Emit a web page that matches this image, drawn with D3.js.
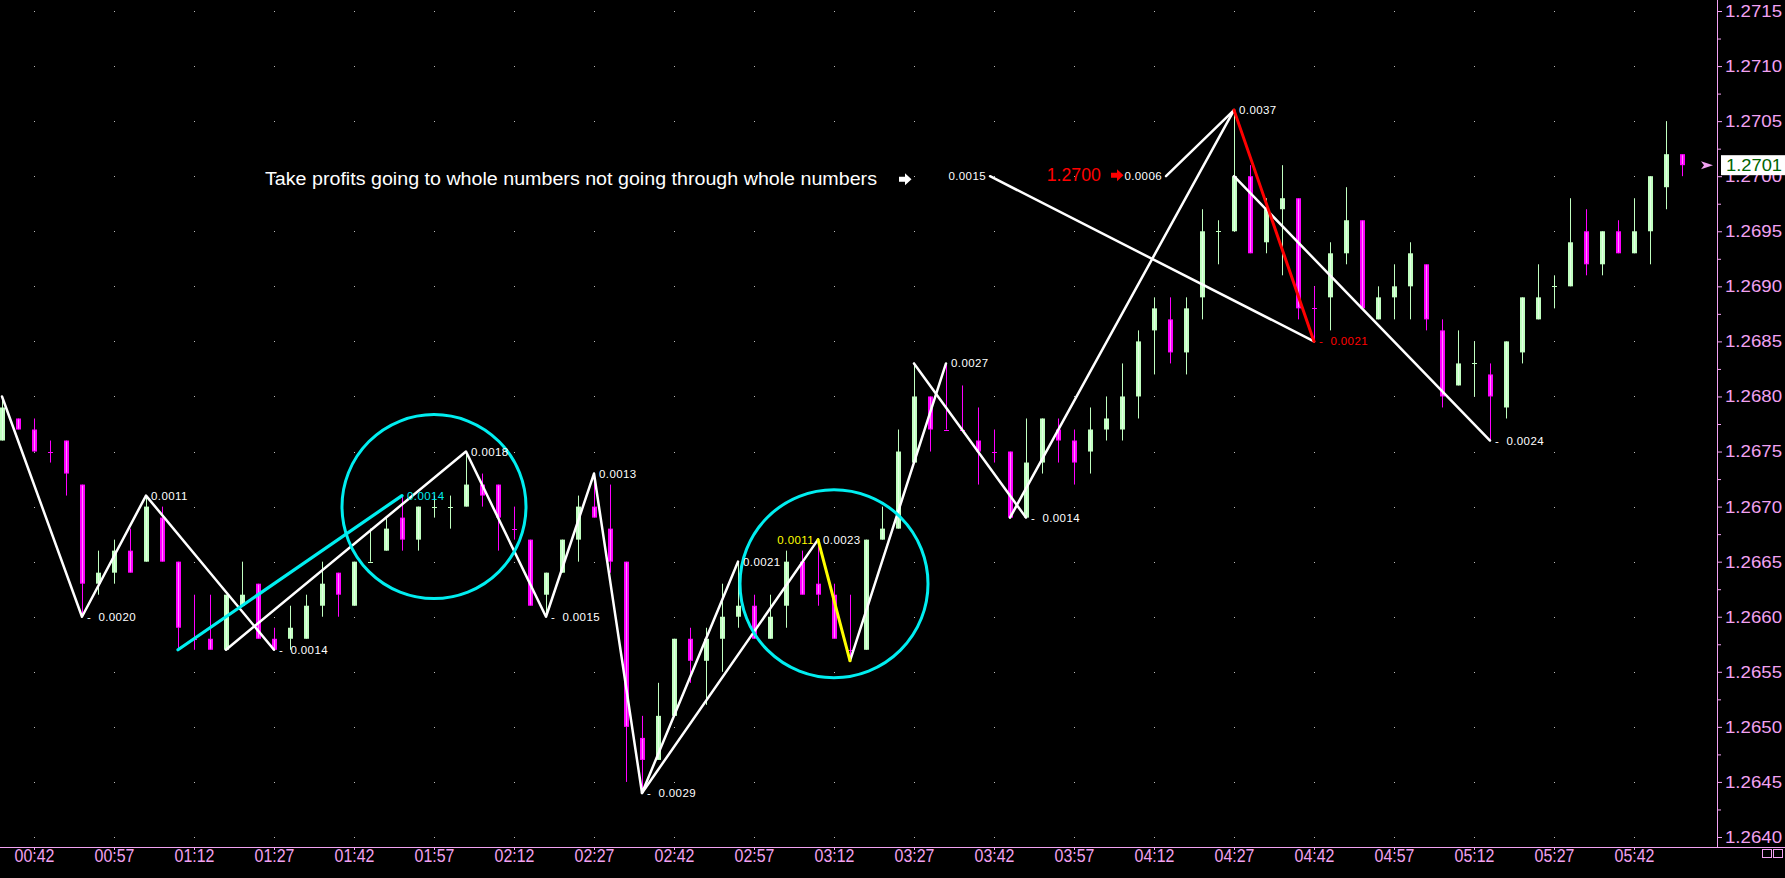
<!DOCTYPE html>
<html><head><meta charset="utf-8">
<script src="https://cdn.jsdelivr.net/npm/d3@7"></script>
<style>
html,body{margin:0;padding:0;background:#000;overflow:hidden;}
svg{display:block;}
</style></head><body>
<svg id="c" width="1785" height="878"></svg>
<script>
// ---------------- DATA ----------------
const times = ["00:36","00:39","00:42","00:45","00:48","00:51","00:54","00:57",
"01:00","01:03","01:06","01:09","01:12","01:15","01:18","01:21","01:24","01:27","01:30","01:33","01:36","01:39","01:42","01:45","01:48","01:51","01:54","01:57",
"02:00","02:03","02:06","02:09","02:12","02:15","02:18","02:21","02:24","02:27","02:30","02:33","02:36","02:39","02:42","02:45","02:48","02:51","02:54","02:57",
"03:00","03:03","03:06","03:09","03:12","03:15","03:18","03:21","03:24","03:27","03:30","03:33","03:36","03:39","03:42","03:45","03:48","03:51","03:54","03:57",
"04:00","04:03","04:06","04:09","04:12","04:15","04:18","04:21","04:24","04:27","04:30","04:33","04:36","04:39","04:42","04:45","04:48","04:51","04:54","04:57",
"05:00","05:03","05:06","05:09","05:12","05:15","05:18","05:21","05:24","05:27","05:30","05:33","05:36","05:39","05:42","05:45","05:48","05:51"];

const openP = [1.2676,1.2678,1.2677,1.2675,1.2676,1.2672,1.2663,1.2664,1.2666,1.2665,
1.2669,1.2665,1.2658,1.2658,1.2657,1.2661,1.2663,1.2658,1.2658,1.2658,
1.2661,1.2664,1.2661,1.2665,1.2666,1.2669,1.2667,1.2670,1.2670,1.2670,
1.2672,1.2672,1.2668,1.2667,1.2662,1.2664,1.2667,1.2670,1.2668,1.2665,
1.2649,1.2647,1.2651,1.2658,1.2656,1.2658,1.2660,1.2661,1.2658,1.2661,
1.2665,1.2663,1.2662,1.2657,1.2657,1.2667,1.2668,1.2674,1.2680,1.2677,
1.2677,1.2676,1.2675,1.2675,1.2669,1.2674,1.2677,1.2676,1.2675,1.2677,
1.2677,1.2680,1.2686,1.2687,1.2684,1.2689,1.2695,1.2695,1.2700,1.2694,
1.2697,1.2698,1.2688,1.2689,1.2693,1.2696,1.2687,1.2689,1.2690,1.2692,
1.2686,1.2681,1.2683,1.2682,1.2679,1.2684,1.2687,1.2690,1.2690,1.2695,
1.2692,1.2695,1.2693,1.2695,1.2699,1.2702];
const highP = [1.2680,1.2678,1.2678,1.2676,1.2676,1.2672,1.2666,1.2667,1.2668,1.2671,
1.2670,1.2665,1.2662,1.2662,1.2662,1.2665,1.2663,1.2659,1.2661,1.2662,
1.2665,1.2664,1.2665,1.2668,1.2669,1.2671,1.2670,1.2671,1.2671,1.2675,
1.2673,1.2672,1.2670,1.2667,1.2664,1.2667,1.2671,1.2673,1.2672,1.2665,
1.2651,1.2654,1.2658,1.2659,1.2659,1.2663,1.2665,1.2662,1.2662,1.2666,
1.2666,1.2667,1.2663,1.2662,1.2667,1.2670,1.2677,1.2683,1.2680,1.2683,
1.2681,1.2679,1.2677,1.2675,1.2678,1.2678,1.2678,1.2677,1.2679,1.2680,
1.2683,1.2686,1.2689,1.2689,1.2689,1.2697,1.2696,1.2706,1.2701,1.2698,
1.2701,1.2698,1.2690,1.2694,1.2699,1.2696,1.2690,1.2692,1.2694,1.2692,
1.2687,1.2686,1.2685,1.2683,1.2685,1.2689,1.2692,1.2691,1.2698,1.2697,
1.2695,1.2696,1.2698,1.2700,1.2705,1.2702];
const lowP = [1.2676,1.2677,1.2675,1.2674,1.2671,1.2660,1.2662,1.2663,1.2664,1.2665,
1.2665,1.2657,1.2657,1.2657,1.2657,1.2661,1.2658,1.2657,1.2657,1.2658,
1.2660,1.2660,1.2661,1.2665,1.2666,1.2666,1.2666,1.2669,1.2668,1.2670,
1.2670,1.2666,1.2667,1.2661,1.2660,1.2664,1.2665,1.2669,1.2664,1.2645,
1.2644,1.2647,1.2651,1.2654,1.2652,1.2655,1.2659,1.2658,1.2658,1.2659,
1.2662,1.2661,1.2658,1.2656,1.2657,1.2667,1.2668,1.2674,1.2675,1.2677,
1.2677,1.2672,1.2674,1.2669,1.2669,1.2673,1.2674,1.2672,1.2673,1.2676,
1.2676,1.2678,1.2682,1.2683,1.2682,1.2687,1.2692,1.2695,1.2693,1.2693,
1.2691,1.2687,1.2685,1.2686,1.2692,1.2688,1.2687,1.2687,1.2687,1.2686,
1.2679,1.2681,1.2680,1.2676,1.2678,1.2683,1.2687,1.2688,1.2690,1.2691,
1.2691,1.2693,1.2693,1.2692,1.2697,1.2700];
const closeP = [1.2679,1.2677,1.2675,1.2675,1.2673,1.2663,1.2664,1.2666,1.2664,1.2670,
1.2665,1.2659,1.2658,1.2657,1.2662,1.2662,1.2658,1.2657,1.2659,1.2661,
1.2663,1.2662,1.2665,1.2665,1.2668,1.2667,1.2670,1.2670,1.2670,1.2672,
1.2671,1.2669,1.2668,1.2661,1.2664,1.2667,1.2670,1.2669,1.2665,1.2650,
1.2647,1.2651,1.2658,1.2656,1.2658,1.2660,1.2661,1.2658,1.2660,1.2665,
1.2662,1.2662,1.2658,1.2657,1.2667,1.2668,1.2675,1.2680,1.2677,1.2677,
1.2677,1.2675,1.2675,1.2669,1.2674,1.2678,1.2676,1.2674,1.2677,1.2678,
1.2680,1.2685,1.2688,1.2684,1.2688,1.2695,1.2695,1.2700,1.2693,1.2697,
1.2698,1.2688,1.2688,1.2693,1.2696,1.2688,1.2689,1.2690,1.2693,1.2687,
1.2680,1.2683,1.2683,1.2680,1.2685,1.2689,1.2689,1.2690,1.2694,1.2692,
1.2695,1.2693,1.2695,1.2700,1.2702,1.2701];
const bearDoji = [3,12,32,53,59,60,62,82];

const xTickIdx = [2,7,12,17,22,27,32,37,42,47,52,57,62,67,72,77,82,87,92,97,102];
const yTickValues = [1.2640,1.2645,1.2650,1.2655,1.2660,1.2665,1.2670,1.2675,1.2680,1.2685,1.2690,1.2695,1.2700,1.2705,1.2710,1.2715];
const yMinorTicks = [1.26425,1.26475,1.26525,1.26575,1.26625,1.26675,1.26725,1.26775,1.26825,1.26875,1.26925,1.26975,1.27025,1.27075,1.27125];
const lastPrice = 1.2701;

// zigzag swings: [bar index, price]
const whiteSwings = [
  [[0,1.2680],[5,1.2660],[9,1.2671],[17,1.2657]],
  [[14,1.2657],[29,1.2675],[34,1.2660],[37,1.2673],[40,1.2644],[46,1.2665]],
  [[40,1.2644],[51,1.2667]],
  [[53,1.2656],[59,1.2683]],
  [[57,1.2683],[64,1.2669]],
  [[63,1.2669],[77,1.2706]],
  [[77,1.2700],[93,1.2676]],
  [[61.75,1.2700],[82,1.2685]],
  [[72.75,1.2700],[77,1.2706]]
];
const cyanSwing = [[11,1.2657],[25,1.2671]];
const yellowSwing = [[51,1.2667],[53,1.2656]];
const redSwing = [[77,1.2706],[82,1.2685]];

const swingLabels = [
  {i:5,  p:1.2660, t:"-  0.0020", col:"w"},
  {i:9,  p:1.2671, t:"0.0011", col:"w"},
  {i:17, p:1.2657, t:"-  0.0014", col:"w"},
  {i:25, p:1.2671, t:"0.0014", col:"c"},
  {i:29, p:1.2675, t:"0.0018", col:"w"},
  {i:34, p:1.2660, t:"-  0.0015", col:"w"},
  {i:37, p:1.2673, t:"0.0013", col:"w"},
  {i:40, p:1.2644, t:"-  0.0029", col:"w"},
  {i:46, p:1.2665, t:"0.0021", col:"w"},
  {i:51, p:1.2667, t:"0.0023", col:"w"},
  {i:51, p:1.2667, t:"0.0011", col:"y", end:true},
  {i:59, p:1.2683, t:"0.0027", col:"w"},
  {i:64, p:1.2669, t:"-  0.0014", col:"w"},
  {i:77, p:1.2706, t:"0.0037", col:"w"},
  {i:82, p:1.2685, t:"-  0.0021", col:"r"},
  {i:93, p:1.2676, t:"-  0.0024", col:"w"},
  {i:61.75, p:1.2700, t:"0.0015", col:"w", end:true},
  {i:72.75, p:1.2700, t:"0.0006", col:"w", end:true}
];
const circles = [{i:27, p:1.2670}, {i:52, p:1.2663}];
const noteText = "Take profits going to whole numbers not going through whole numbers";
const wholeNumber = {i:65.3, p:1.2700, t:"1.2700"};

// ---------------- DRAW ----------------
const W = 1785, H = 878;
const svg = d3.select("#c");
svg.append("rect").attr("width",W).attr("height",H).attr("fill","#000");

const xs = d3.scaleLinear().domain([0, times.length-1]).range([2, 1682]);
const ys = d3.scaleLinear().domain([1.2640, 1.2715]).range([837, 11]);
const PINK = "#f2a2f2", UP = "#c0ffc0", DN = "#ff00ff";
const colMap = {w:"#ffffff", c:"#00eef0", y:"#ffff00", r:"#ff0000"};

// grid dots
const gDots = svg.append("g");
xTickIdx.forEach(i => yTickValues.forEach(v => {
  gDots.append("rect").attr("x", Math.round(xs(i))).attr("y", Math.round(ys(v)))
    .attr("width",1).attr("height",1).attr("fill","#b8b8b8");
}));

// candles
const bars = d3.range(times.length).map(i => ({i, o:openP[i], h:highP[i], l:lowP[i], c:closeP[i]}));
const isUp = d => d.c > d.o || (d.c === d.o && !bearDoji.includes(d.i));
const gC = svg.append("g");
const cg = gC.selectAll("g").data(bars).join("g");
cg.append("line")
  .attr("x1", d => Math.round(xs(d.i))+0.5).attr("x2", d => Math.round(xs(d.i))+0.5)
  .attr("y1", d => ys(d.h)).attr("y2", d => ys(d.l))
  .attr("stroke", d => isUp(d) ? UP : DN).attr("stroke-width",1);
cg.filter(d => d.o !== d.c).append("rect")
  .attr("x", d => Math.round(xs(d.i))-2).attr("width",5)
  .attr("y", d => ys(Math.max(d.o,d.c))).attr("height", d => ys(Math.min(d.o,d.c)) - ys(Math.max(d.o,d.c)))
  .attr("fill", d => isUp(d) ? UP : DN);
cg.filter(d => d.o !== d.c).append("line")
  .attr("x1", d => Math.round(xs(d.i))+0.5).attr("x2", d => Math.round(xs(d.i))+0.5)
  .attr("y1", d => ys(Math.max(d.o,d.c))+1).attr("y2", d => ys(Math.min(d.o,d.c))-1)
  .attr("stroke", d => isUp(d) ? "#e4ffe4" : "#ff8cff").attr("stroke-width",1);
cg.filter(d => d.o === d.c).append("line")
  .attr("x1", d => Math.round(xs(d.i))-2).attr("x2", d => Math.round(xs(d.i))+3)
  .attr("y1", d => Math.round(ys(d.o))+0.5).attr("y2", d => Math.round(ys(d.o))+0.5)
  .attr("stroke", d => isUp(d) ? UP : DN).attr("stroke-width",1);

// swing lines
const line = d3.line().x(d => xs(d[0])).y(d => ys(d[1]));
const gL = svg.append("g").attr("fill","none").attr("stroke-linejoin","round").attr("stroke-linecap","round");
gL.selectAll("path.w").data(whiteSwings).join("path").attr("class","w")
  .attr("d", line).attr("stroke","#ffffff").attr("stroke-width",2.5);
gL.append("path").attr("d", line(cyanSwing)).attr("stroke", colMap.c).attr("stroke-width",3.2);
gL.append("path").attr("d", line(yellowSwing)).attr("stroke", colMap.y).attr("stroke-width",3);
gL.append("path").attr("d", line(redSwing)).attr("stroke", colMap.r).attr("stroke-width",3);

// circles
svg.append("g").selectAll("circle").data(circles).join("circle")
  .attr("cx", d => xs(d.i)).attr("cy", d => ys(d.p)).attr("r", (d,k) => k === 0 ? 92 : 94)
  .attr("fill","none").attr("stroke", colMap.c).attr("stroke-width",3);

// swing labels
svg.append("g").selectAll("text").data(swingLabels).join("text")
  .attr("x", d => d.end ? xs(d.i) - 4 : xs(d.i) + 5)
  .attr("y", d => ys(d.p) + 4)
  .attr("text-anchor", d => d.end ? "end" : "start")
  .attr("fill", d => colMap[d.col])
  .style("white-space","pre")
  .attr("font-family","'Liberation Sans', Arial, sans-serif").attr("font-size", 11.5)
  .attr("letter-spacing", 0.4)
  .text(d => d.t);

// annotation
svg.append("text").attr("x", 265).attr("y", ys(1.2700) + 9)
  .attr("fill","#fff").attr("font-family","'Liberation Sans', Arial, sans-serif").attr("font-size",18)
  .attr("textLength", 612).attr("lengthAdjust","spacingAndGlyphs").text(noteText);
function arrow(x, cy, col) {
  svg.append("path").attr("fill", col)
    .attr("d", `M${x},${cy-2.5}h6v-3.5l6.5,6l-6.5,6v-3.5h-6z`);
}
arrow(899, ys(1.2700) + 3, "#ffffff");
arrow(1111, ys(1.2700) - 1, "#ff0000");
svg.append("text").attr("x", xs(wholeNumber.i)).attr("y", ys(wholeNumber.p) + 5)
  .attr("fill","#ff0000").attr("font-family","'Liberation Sans', Arial, sans-serif").attr("font-size",18)
  .attr("textLength", 54).attr("lengthAdjust","spacingAndGlyphs").text(wholeNumber.t);

// axes
const yAxisG = svg.append("g").attr("transform","translate(1717,0)")
  .call(d3.axisRight(ys).tickValues(yTickValues).tickSize(5).tickPadding(3).tickFormat(d3.format(".4f")));
yAxisG.select(".domain").remove();
yAxisG.selectAll("line").attr("stroke", PINK);
yAxisG.selectAll("text").attr("fill", PINK).attr("font-family","'Liberation Sans', Arial, sans-serif")
  .attr("font-size",17).attr("textLength",57).attr("lengthAdjust","spacingAndGlyphs");
const yMinorG = svg.append("g").attr("transform","translate(1717,0)")
  .call(d3.axisRight(ys).tickValues(yMinorTicks).tickSize(4).tickFormat(""));
yMinorG.select(".domain").remove();
yMinorG.selectAll("line").attr("stroke", PINK);

const xAxisG = svg.append("g").attr("transform","translate(0,847)")
  .call(d3.axisBottom(xs).tickValues(xTickIdx).tickSize(3).tickPadding(-1).tickFormat(i => times[i]));
xAxisG.select(".domain").remove();
xAxisG.selectAll("line").attr("stroke", PINK);
xAxisG.selectAll("text").attr("fill", PINK).attr("font-family","'Liberation Sans Narrow','Liberation Sans', Arial, sans-serif")
  .attr("font-size",18).attr("textLength",40).attr("lengthAdjust","spacingAndGlyphs");

svg.append("line").attr("x1",1717.5).attr("x2",1717.5).attr("y1",0).attr("y2",847).attr("stroke",PINK);
svg.append("line").attr("x1",0).attr("x2",W).attr("y1",847.5).attr("y2",847.5).attr("stroke",PINK);

// last price marker
const lpY = ys(lastPrice);
svg.append("rect").attr("x",1721).attr("y",lpY-10).attr("width",64).attr("height",20).attr("fill","#fff");
svg.append("text").attr("x",1726).attr("y",lpY+6).attr("fill","#006400")
  .attr("font-family","'Liberation Sans', Arial, sans-serif").attr("font-size",17)
  .attr("textLength",56).attr("lengthAdjust","spacingAndGlyphs").text(d3.format(".4f")(lastPrice));
svg.append("path").attr("fill", PINK).attr("d", `M1701,${lpY-4}L1713,${lpY}L1701,${lpY+4}L1704,${lpY}Z`);

// corner boxes
[1762,1773].forEach(x => svg.append("rect").attr("x",x+0.5).attr("y",849.5).attr("width",9).attr("height",8)
  .attr("fill","none").attr("stroke",PINK));
</script>
</body></html>
